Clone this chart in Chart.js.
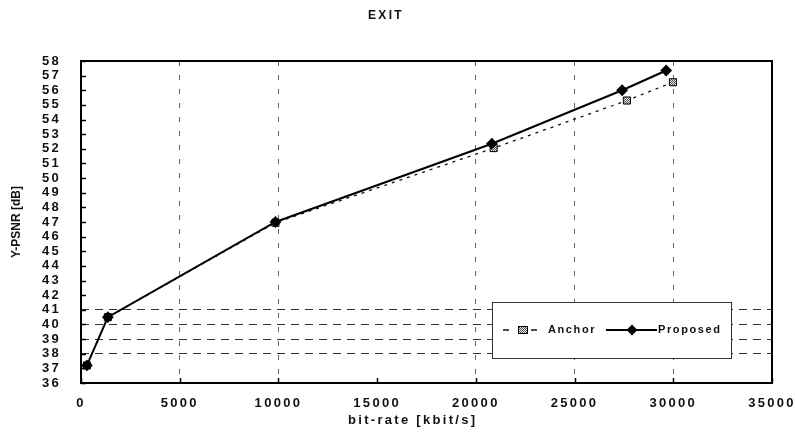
<!DOCTYPE html>
<html>
<head>
<meta charset="utf-8">
<title>EXIT</title>
<script src="https://cdn.jsdelivr.net/npm/chart.js@4.4.0/dist/chart.umd.min.js"></script>
<style>
  html, body { margin: 0; padding: 0; background: #fff; }
  #wrap { width: 795px; height: 439px; }
</style>
</head>
<body>
<div id="wrap"><canvas id="psnr-chart" width="795" height="439"></canvas></div>
<script>
// rate points in kbit/s, quality in dB
const anchorRate = [300, 1360, 9850, 20900, 27650, 29980];
const anchorPsnr = [37.2, 40.5, 46.95, 52.05, 55.3, 56.55];
const proposedRate = [300, 1360, 9850, 20810, 27410, 29640];
const proposedPsnr = [37.2, 40.5, 47.0, 52.35, 56.0, 57.35];

const xTicks = [0, 5000, 10000, 15000, 20000, 25000, 30000, 35000];
const yTicks = [36, 37, 38, 39, 40, 41, 42, 43, 44, 45, 46, 47, 48, 49, 50, 51, 52, 53, 54, 55, 56, 57, 58];
const dashedRows = [38, 39, 40, 41];
const gridCols = [5000, 10000, 20000, 25000, 30000];

const seriesNames = ['Anchor', 'Proposed'];
const xTitle = 'bit-rate [kbit/s]';

const FONT = '"Liberation Sans", Arial, sans-serif';
const WIDE = '2.3px';

// small checkered fill for the anchor squares
function makeChecker() {
    const c = document.createElement('canvas');
    c.width = 2; c.height = 2;
    const g = c.getContext('2d');
    g.fillStyle = '#e6e6e6'; g.fillRect(0, 0, 2, 2);
    g.fillStyle = '#555'; g.fillRect(0, 0, 1, 1); g.fillRect(1, 1, 1, 1);
    return g.createPattern(c, 'repeat');
}

function toPoints(xs, ys) {
    return xs.map((x, i) => ({ x: x, y: ys[i] }));
}

// tick labels are spaced out, the y title is not
const spacing = {
    id: 'spacing',
    beforeLayout(chart) { chart.ctx.letterSpacing = WIDE; },
    beforeDraw(chart) {
        chart.ctx.letterSpacing = WIDE;
        const ys = chart.scales.y;
        if (ys && !ys._plainTitle) {
            const base = ys.drawTitle;
            ys.drawTitle = function() {
                chart.ctx.letterSpacing = '0px';
                base.call(this);
                chart.ctx.letterSpacing = WIDE;
            };
            ys._plainTitle = true;
        }
    }
};

// frame, inward ticks, x title and the boxed legend
const decor = {
    id: 'decor',
    afterDatasetsDraw(chart) {
        const ctx = chart.ctx;
        const area = chart.chartArea;
        const xs = chart.scales.x, ys = chart.scales.y;
        ctx.save();
        ctx.strokeStyle = '#000';
        ctx.lineWidth = 1.5;
        ctx.beginPath();
        yTicks.forEach(v => {
            const y = Math.round(ys.getPixelForValue(v)) + 0.5;
            ctx.moveTo(area.left, y); ctx.lineTo(area.left + 5, y);
        });
        xTicks.forEach(v => {
            const x = Math.round(xs.getPixelForValue(v)) + 0.5;
            ctx.moveTo(x, area.bottom); ctx.lineTo(x, area.bottom - 5);
        });
        ctx.stroke();

        ctx.lineWidth = 2;
        ctx.strokeRect(area.left, area.top, area.right - area.left, area.bottom - area.top);

        // x axis title sits a little left of centre
        ctx.fillStyle = '#111';
        ctx.font = 'bold 13px ' + FONT;
        ctx.letterSpacing = WIDE;
        ctx.textAlign = 'center';
        ctx.textBaseline = 'middle';
        ctx.fillText(xTitle, xs.getPixelForValue(16800), 420);

        // legend box
        const bx = 492, by = 302, bw = 239, bh = 56;
        ctx.fillStyle = '#fff';
        ctx.fillRect(bx, by, bw, bh);
        ctx.lineWidth = 1;
        ctx.strokeStyle = '#333';
        ctx.strokeRect(bx + 0.5, by + 0.5, bw, bh);

        const cy = by + 28;
        const ds = chart.data.datasets;
        // anchor sample: dash, square, dash
        ctx.strokeStyle = '#111';
        ctx.lineWidth = 1.3;
        ctx.beginPath();
        ctx.moveTo(503, cy); ctx.lineTo(509, cy);
        ctx.moveTo(531, cy); ctx.lineTo(537, cy);
        ctx.stroke();
        ctx.fillStyle = ds[0].pointBackgroundColor;
        ctx.strokeStyle = '#000';
        ctx.lineWidth = 1;
        ctx.fillRect(518, cy - 4, 10, 8);
        ctx.strokeRect(518.5, cy - 3.5, 9, 7);

        // proposed sample: solid line through a diamond
        ctx.lineWidth = ds[1].borderWidth;
        ctx.beginPath(); ctx.moveTo(606, cy); ctx.lineTo(657, cy); ctx.stroke();
        ctx.fillStyle = '#000';
        Chart.helpers.drawPoint(ctx, {
            pointStyle: 'rectRot', radius: 4, borderWidth: 1
        }, 632, cy);
        ctx.fill();

        ctx.fillStyle = '#111';
        ctx.font = 'bold 11px ' + FONT;
        ctx.letterSpacing = '1.6px';
        ctx.textAlign = 'left';
        ctx.fillText(seriesNames[0], 548, cy);
        ctx.fillText(seriesNames[1], 658, cy);
        ctx.restore();
    }
};

const ctx = document.getElementById('psnr-chart');

new Chart(ctx, {
    type: 'scatter',
    data: {
        datasets: [{
            label: seriesNames[0],
            data: toPoints(anchorRate, anchorPsnr),
            showLine: true,
            borderColor: '#111',
            borderWidth: 1.3,
            borderDash: [3, 5],
            pointStyle: 'rect',
            pointRadius: 5,
            pointBackgroundColor: makeChecker(),
            pointBorderColor: '#000',
            pointBorderWidth: 1,
            order: 2
        }, {
            label: seriesNames[1],
            data: toPoints(proposedRate, proposedPsnr),
            showLine: true,
            borderColor: '#000',
            borderWidth: 2,
            pointStyle: 'rectRot',
            pointRadius: 4.5,
            pointBackgroundColor: '#000',
            pointBorderColor: '#000',
            order: 1
        }]
    },
    options: {
        responsive: false,
        animation: false,
        layout: { padding: { left: 0, right: 23, top: 0, bottom: 0 } },
        plugins: {
            legend: { display: false },
            tooltip: { enabled: false },
            title: {
                display: true,
                text: 'EXIT',
                color: '#111',
                font: { family: FONT, size: 12, weight: '600' },
                padding: { top: 8, bottom: 38.6 }
            }
        },
        scales: {
            x: {
                type: 'linear',
                min: 0,
                max: 35000,
                afterBuildTicks: s => { s.ticks = xTicks.map(v => ({ value: v })); },
                afterFit: s => { s.height = 56; s.paddingLeft = 0; s.paddingRight = 0; },
                ticks: {
                    color: '#111',
                    padding: 13,
                    maxRotation: 0,
                    autoSkip: false,
                    callback: v => String(v),
                    font: { family: FONT, size: 13, weight: 'bold' }
                },
                grid: {
                    drawTicks: false,
                    lineWidth: 1,
                    color: c => gridCols.includes(c.tick && c.tick.value) ? '#666' : 'rgba(0,0,0,0)'
                },
                border: { display: false, dash: [5, 9] },
                title: { display: false }
            },
            y: {
                type: 'linear',
                min: 36,
                max: 58,
                afterBuildTicks: s => { s.ticks = yTicks.map(v => ({ value: v })); },
                afterFit: s => { s.width = 81; },
                ticks: {
                    color: '#111',
                    padding: 20,
                    autoSkip: false,
                    font: { family: FONT, size: 13, weight: 'bold' }
                },
                grid: {
                    drawTicks: false,
                    lineWidth: 1,
                    color: c => dashedRows.includes(c.tick && c.tick.value) ? '#333' : 'rgba(0,0,0,0)'
                },
                border: { display: false, dash: [8, 6] },
                title: {
                    display: true,
                    text: 'Y-PSNR [dB]',
                    color: '#111',
                    padding: { top: 9, bottom: 0 },
                    font: { family: FONT, size: 12, weight: 'bold' }
                }
            }
        }
    },
    plugins: [spacing, decor]
});
</script>
</body>
</html>
